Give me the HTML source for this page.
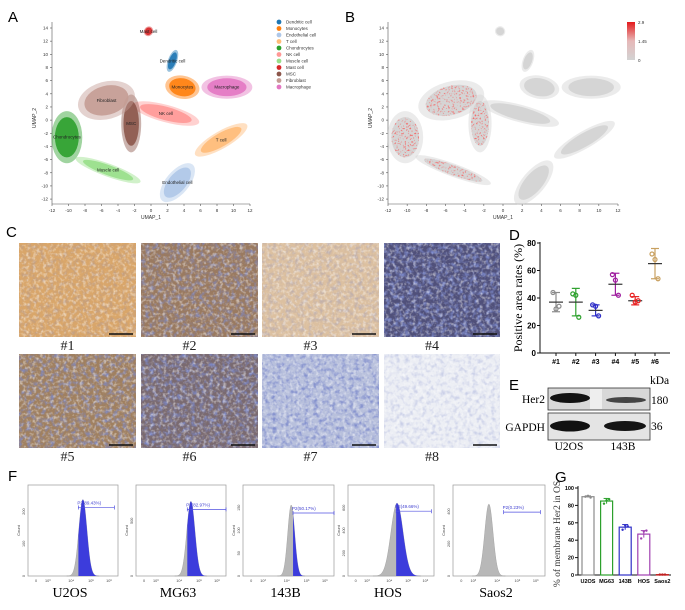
<!DOCTYPE html>
<html><head><meta charset="utf-8"><style>
html,body{margin:0;padding:0;background:#fff;}
svg{display:block;font-family:"Liberation Sans",sans-serif;}
.ser{font-family:"Liberation Serif",serif;}
</style></head><body>
<svg id="fig" width="685" height="610" viewBox="0 0 685 610" xmlns="http://www.w3.org/2000/svg">
<defs>
<filter id="nb" x="0" y="0" width="100%" height="100%"><feTurbulence type="fractalNoise" baseFrequency="0.22" numOctaves="2" seed="3"/><feColorMatrix type="matrix" values="0 0 0 0 0.2  0 0 0 0 0.25  0 0 0 0 0.6  0 0 -2.6 0 1.45"/></filter>
<filter id="nw" x="0" y="0" width="100%" height="100%"><feTurbulence type="fractalNoise" baseFrequency="0.3" numOctaves="2" seed="8"/><feColorMatrix type="matrix" values="0 0 0 0 1  0 0 0 0 1  0 0 0 0 1  0 -2.8 0 0 1.5"/></filter>
<filter id="nr" x="0" y="0" width="100%" height="100%"><feTurbulence type="fractalNoise" baseFrequency="0.6" numOctaves="1" seed="11"/><feColorMatrix type="matrix" values="0 0 0 0 0.9  0 0 0 0 0.15  0 0 0 0 0.15  0 -5 0 0 2.3"/><feComposite operator="in" in2="SourceAlpha"/></filter>
<filter id="nd" x="-20%" y="-20%" width="140%" height="140%"><feTurbulence type="fractalNoise" baseFrequency="0.5" numOctaves="1" seed="5"/><feColorMatrix type="matrix" values="0 0 0 0 0.5  0 0 0 0 0.5  0 0 0 0 0.5  0 0 -3 0 1.7"/><feComposite operator="in" in2="SourceAlpha"/><feComposite operator="in" in2="SourceGraphic" result="m"/><feFlood flood-color="#fff" flood-opacity="0"/><feMerge><feMergeNode in="m"/></feMerge></filter>
<linearGradient id="cb" x1="0" y1="0" x2="0" y2="1"><stop offset="0" stop-color="#e41a1c"/><stop offset="0.5" stop-color="#e6b8b8"/><stop offset="1" stop-color="#d3d3d3"/></linearGradient>
</defs>
<g id="panelA"></g>
<g id="panelB"></g>
<g id="panelC"></g>
<g id="panelD"></g>
<g id="panelE"></g>
<g id="panelF"></g>
<g id="panelG"></g>
</svg>
<script>
// ---------- data ----------
const clusterNames=["Dendritic cell","Monocytes","Endothelial cell","T cell","Chondrocytes","NK cell","Muscle cell","Mast cell","MSC","Fibroblast","Macrophage"];
const clusterColors=["#1f77b4","#ff7f0e","#aec7e8","#ffbb78","#2ca02c","#ff9896","#98df8a","#d62728","#8c564b","#c49c94","#e377c2"];
const clusterCx=[2.6,3.8,3.2,8.5,-10.2,1.8,-5.2,-0.3,-2.4,-5.4,9.2];
const clusterCy=[9,5,-9.5,-3,-2.6,1,-7.6,13.5,-0.5,3,5];
const clusterRx=[0.5,1.9,2.6,3.3,1.7,3.8,3.8,0.5,1.1,3.2,2.8];
const clusterRy=[1.6,1.6,1.6,1.2,3.6,1.2,0.9,0.7,4.0,2.6,1.6];
const clusterRot=[20,10,-50,-30,0,15,20,30,0,-15,0];
const umapTicks=[-12,-10,-8,-6,-4,-2,0,2,4,6,8,10,12,14];
const dCats=["#1","#2","#3","#4","#5","#6"];
const dPts=[[44,32,34],[43,42,26],[35,34,27],[57,53,42],[42,37,38],[72,68,54]];
const dMean=[37,37,31,50,38,65];
const dSD=[7,10,4,8,3,11];
const dColors=["#8c8c8c","#2ca02c","#3030c8","#a020a0","#e82020","#c8a060"];
const dTicks=[0,20,40,60,80];
const gCats=["U2OS","MG63","143B","HOS","Saos2"];
const gVals=[90,85,55,47,0.4];
const gSD=[1,3,3,4,0.3];
const gPts=[[90,91,89],[82,86,87],[52,57,56],[42,50,51],[0.5,0.5,0.5]];
const gColors=["#8c8c8c","#2ca02c","#3030c8","#a040b0","#c02020"];
const gTicks=[0,20,40,60,80,100];
const fSamples=["U2OS","MG63","143B","HOS","Saos2"];
const fGate=["P2(89.43%)","P2(82.97%)","P2(50.17%)","P2(49.66%)","P2(0.23%)"];
const fPeak=[0.61,0.61,0.53,0.57,0.39];
const fSpread=[0.045,0.045,0.038,0.07,0.045];
const fGateStart=[0.56,0.57,0.55,0.56,0.55];
const fGateEnd=[0.96,1.0,1.0,0.97,0.95];
const fHeight=[0.84,0.82,0.78,0.8,0.79];
const fYTicks=[["0","100","200"],["0","500"],["0","50","100","150"],["0","200","400","600"],["0","200","400"]];

const NS="http://www.w3.org/2000/svg";
function mk(parent,tag,attrs,text){const e=document.createElementNS(NS,tag);for(const k in attrs)e.setAttribute(k,attrs[k]);if(text!==undefined)e.textContent=text;parent.appendChild(e);return e;}
function label(g,x,y,t){const e=mk(g,"text",{x:x,y:y,"font-size":15},t);}

// ---------- UMAP panels ----------
function umap(g,x0,x1,expr){
  const X=v=>x0+(v+12)*(x1-x0)/24, Y=v=>28+(14-v)*6.58;
  const ax=mk(g,"g",{stroke:"#555","stroke-width":0.6});
  
  mk(ax,"line",{x1:x0,y1:22,x2:x0,y2:204});mk(ax,"line",{x1:x0,y1:204,x2:x1,y2:204});
  umapTicks.forEach(t=>{ if(t<=12){mk(ax,"line",{x1:X(t),y1:204,x2:X(t),y2:206});const tx=mk(g,"text",{x:X(t),y:212,"font-size":4.5,"text-anchor":"middle",fill:"#333"},t);}
    mk(ax,"line",{x1:x0-2,y1:Y(t),x2:x0,y2:Y(t)});const ty=mk(g,"text",{x:x0-4,y:Y(t)+1.5,"font-size":4.5,"text-anchor":"end",fill:"#333"},t);});
  const xt=mk(g,"text",{x:(x0+x1)/2,y:219,"font-size":5,"text-anchor":"middle",fill:"#333"},"UMAP_1");
  const yt=mk(g,"text",{x:x0-16,y:118,"font-size":5,"text-anchor":"middle",fill:"#333",transform:`rotate(-90 ${x0-16} 118)`},"UMAP_2");
  clusterNames.forEach((n,i)=>{
    const cx=X(clusterCx[i]),cy=Y(clusterCy[i]),rx=clusterRx[i]*(x1-x0)/24,ry=clusterRy[i]*6.58;
    const col=expr?"#d3d3d3":clusterColors[i];
    const e=mk(g,"ellipse",{cx:cx,cy:cy,rx:rx*1.1,ry:ry*1.1,transform:`rotate(${clusterRot[i]} ${cx} ${cy})`,fill:col,opacity:0.45});
    
    const e2=mk(g,"ellipse",{cx:cx,cy:cy,rx:rx*0.85,ry:ry*0.85,transform:`rotate(${clusterRot[i]} ${cx} ${cy})`,fill:col,opacity:0.9});
    
    if(expr && [4,8,9,6].includes(i)){const r=mk(g,"ellipse",{cx:cx,cy:cy,rx:rx*0.85,ry:ry*0.85,transform:`rotate(${clusterRot[i]} ${cx} ${cy})`,fill:"#fff",filter:"url(#nr)"});}
    if(!expr){const t=mk(g,"text",{x:cx,y:cy+1.5,"font-size":4.5,"text-anchor":"middle",fill:"#222"},n);}
  });
}
const A=document.getElementById("panelA");label(A,8,22,"A");umap(A,52,250,false);
clusterNames.forEach((n,i)=>{const y=22+i*6.5;
  const c=mk(A,"circle",{cx:279,cy:y,r:2.4,fill:clusterColors[i]});
  const t=mk(A,"text",{x:286,y:y+1.6,"font-size":4.5,fill:"#333"},n);});
const B=document.getElementById("panelB");label(B,345,22,"B");umap(B,388,618,true);
{const r=mk(B,"rect",{x:627,y:22,width:8,height:38,fill:"url(#cb)"});
[["2.9",24],["1.45",43],["0",62]].forEach(([t,y])=>{const e=mk(B,"text",{x:638,y:y,"font-size":4.5,fill:"#333"},t);});}

// ---------- C tiles ----------
const C=document.getElementById("panelC");label(C,6,237,"C");
const tileX=[19,141,262,384],tileY=[243,354];
const tileBase=["#d9a66a","#9a7a60","#dcc0a0","#50507a","#a08060","#7a6a70","#b8c0dc","#eceef4"];
const tileBlue=[0.25,0.7,0.3,1,0.8,0.9,0.9,0.3];
for(let i=0;i<8;i++){const x=tileX[i%4],y=tileY[Math.floor(i/4)],w=(i%4==3)?116:117;
  const g=mk(C,"g",{});
  mk(g,"rect",{x:x,y:y,width:w,height:94,fill:tileBase[i]});
  mk(g,"rect",{x:x,y:y,width:w,height:94,filter:"url(#nb)",opacity:tileBlue[i]});
  mk(g,"rect",{x:x,y:y,width:w,height:94,filter:"url(#nw)",opacity:0.5});
  mk(g,"line",{x1:x+w-27,y1:y+91,x2:x+w-3,y2:y+91,stroke:"#111","stroke-width":1.6});
  const t=mk(C,"text",{x:x+w/2-10,y:y+107,"font-size":14,"text-anchor":"middle",class:"ser",fill:"#222"},"#"+(i+1));}

// ---------- D ----------
const D=document.getElementById("panelD");label(D,509,240,"D");
{const x0=540,Y=v=>353-v*1.375,X=i=>556+i*19.8;
mk(D,"line",{x1:x0,y1:242,x2:x0,y2:353,stroke:"#111","stroke-width":1});
mk(D,"line",{x1:x0,y1:353,x2:670,y2:353,stroke:"#111","stroke-width":1});
dTicks.forEach(t=>{mk(D,"line",{x1:x0-3,y1:Y(t),x2:x0,y2:Y(t),stroke:"#111"});const e=mk(D,"text",{x:x0-4,y:Y(t)+3,"font-size":8,"font-weight":"bold","text-anchor":"end"},t);});
const yt=mk(D,"text",{x:522,y:298,"font-size":12,class:"ser","text-anchor":"middle",transform:"rotate(-90 522 298)"},"Positive area rates (%)");
dCats.forEach((c,i)=>{const x=X(i),col=dColors[i];
  mk(D,"line",{x1:x,y1:353,x2:x,y2:356,stroke:"#111"});
  const t=mk(D,"text",{x:x,y:364,"font-size":7,"font-weight":"bold","text-anchor":"middle"},c);
  const g=mk(D,"g",{stroke:col,"stroke-width":1.2,fill:"none"});
  mk(g,"line",{x1:x,y1:Y(dMean[i]-dSD[i]),x2:x,y2:Y(dMean[i]+dSD[i])});
  mk(g,"line",{x1:x-4,y1:Y(dMean[i]-dSD[i]),x2:x+4,y2:Y(dMean[i]-dSD[i])});
  mk(g,"line",{x1:x-4,y1:Y(dMean[i]+dSD[i]),x2:x+4,y2:Y(dMean[i]+dSD[i])});
  const m=mk(g,"line",{x1:x-7,y1:Y(dMean[i]),x2:x+7,y2:Y(dMean[i]),stroke:"#333"});
  dPts[i].forEach((v,j)=>{const p=mk(g,"circle",{cx:x+(j-1)*3,cy:Y(v),r:2});});
});}

// ---------- E ----------
const E=document.getElementById("panelE");label(E,509,390,"E");
{const g=mk(E,"g",{});
mk(g,"rect",{x:548,y:388,width:102,height:22,fill:"#d8d8d8",stroke:"#333","stroke-width":0.8});
mk(g,"rect",{x:590,y:389,width:12,height:20,fill:"#eeeeee"});
mk(g,"rect",{x:548,y:413,width:102,height:27,fill:"#e4e4e4",stroke:"#333","stroke-width":0.8});
mk(g,"ellipse",{cx:570,cy:398,rx:20,ry:5,fill:"#111"});
mk(g,"ellipse",{cx:626,cy:400,rx:20,ry:3,fill:"#444"});
mk(g,"ellipse",{cx:570,cy:426,rx:20,ry:5.5,fill:"#111"});
mk(g,"ellipse",{cx:625,cy:426,rx:21,ry:5,fill:"#151515"});
[["Her2",545,403,"end"],["GAPDH",545,431,"end"],["kDa",650,384,"start"],["180",651,404,"start"],["36",651,430,"start"],["U2OS",569,450,"middle"],["143B",623,450,"middle"]].forEach(([t,x,y,a])=>{const e=mk(E,"text",{x:x,y:y,"font-size":11.5,class:"ser","text-anchor":a},t);});}

// ---------- F ----------
const F=document.getElementById("panelF");label(F,8,481,"F");
const fX=[28,136,243,348,453],fW=[90,90,91,86,92],fTop=485,fBot=576;
fSamples.forEach((s,i)=>{const x0=fX[i],w=fW[i],h=fBot-fTop;
  const g=mk(F,"g",{});
  mk(g,"rect",{x:x0,y:fTop,width:w,height:h,fill:"#fff",stroke:"#999","stroke-width":0.7});
  const fx=f=>x0+f*w, fy=v=>fBot-v*fHeight[i]*h;
  let pg="",pb="";const n=80;
  for(let k=0;k<=n;k++){const f=fPeak[i]-4*fSpread[i]+k*8*fSpread[i]/n;const v=Math.exp(-0.5*((f-fPeak[i])/fSpread[i])**2);
    pg+=(k?"L":"M")+fx(f).toFixed(2)+","+fy(v).toFixed(2);}
  pg+="Z";
  mk(g,"path",{d:pg,fill:"#b8b8b8",stroke:"#999","stroke-width":0.4});
  if(i<4){for(let k=0;k<=n;k++){const f=fGateStart[i]+k*(fPeak[i]+4*fSpread[i]-fGateStart[i])/n;const v=Math.exp(-0.5*((f-fPeak[i])/fSpread[i])**2);
    pb+=(k?"L":"M")+fx(f).toFixed(2)+","+fy(v).toFixed(2);}
    pb+="L"+fx(fPeak[i]+4*fSpread[i])+","+fBot+"L"+fx(fGateStart[i])+","+fBot+"Z";
    const b=mk(g,"path",{d:pb,fill:"#3c3cdc"});}
  const gy=fy(1)+8;
  mk(g,"line",{x1:fx(fGateStart[i]),y1:gy,x2:fx(fGateEnd[i]),y2:gy,stroke:"#5050e0","stroke-width":0.7});
  mk(g,"line",{x1:fx(fGateStart[i]),y1:gy-2,x2:fx(fGateStart[i]),y2:gy+2,stroke:"#5050e0","stroke-width":0.7});
  mk(g,"line",{x1:fx(fGateEnd[i]),y1:gy-2,x2:fx(fGateEnd[i]),y2:gy+2,stroke:"#5050e0","stroke-width":0.7});
  const gl=mk(F,"text",{x:fx(fGateStart[i])-1,y:gy-3,"font-size":4.5,fill:"#4040d0"},fGate[i]);
  ["0","10³","10⁴","10⁵","10⁶"].forEach((t,k)=>{const tx=mk(F,"text",{x:fx([0.09,0.22,0.48,0.7,0.9][k]),y:fBot+6,"font-size":3.8,"text-anchor":"middle",fill:"#444"},t);});
  fYTicks[i].forEach((t,k)=>{const yy=fBot-k*(h*0.85)/(fYTicks[i].length-0.6);const e=mk(F,"text",{x:x0-3,y:yy,"font-size":3.8,"text-anchor":"middle",fill:"#444",transform:`rotate(-90 ${x0-3} ${yy})`},t);});
  const c=mk(F,"text",{x:x0-8,y:fTop+h/2,"font-size":4,"text-anchor":"middle",fill:"#444",transform:`rotate(-90 ${x0-8} ${fTop+h/2})`},"Count");
  const sl=mk(F,"text",{x:x0+w/2-3,y:597,"font-size":14,class:"ser","text-anchor":"middle"},s);
});

// ---------- G ----------
const G=document.getElementById("panelG");label(G,555,482,"G");
{const x0=578,Y=v=>575-v*0.87,X=i=>588+i*18.6;
mk(G,"line",{x1:x0,y1:486,x2:x0,y2:575,stroke:"#111","stroke-width":1});
mk(G,"line",{x1:x0,y1:575,x2:671,y2:575,stroke:"#111","stroke-width":1});
gTicks.forEach(t=>{mk(G,"line",{x1:x0-3,y1:Y(t),x2:x0,y2:Y(t),stroke:"#111"});const e=mk(G,"text",{x:x0-4,y:Y(t)+2,"font-size":5.5,"font-weight":"bold","text-anchor":"end"},t);});
const yt=mk(G,"text",{x:560,y:534,"font-size":9.5,class:"ser","text-anchor":"middle",fill:"#333",transform:"rotate(-90 560 534)"},"% of membrane Her2 in OS");
gCats.forEach((c,i)=>{const x=X(i),col=gColors[i];
  const t=mk(G,"text",{x:x,y:583,"font-size":5.5,"font-weight":"bold","text-anchor":"middle"},c);
  const b=mk(G,"rect",{x:x-6,y:Y(gVals[i]),width:12,height:575-Y(gVals[i]),fill:"#fff",stroke:col,"stroke-width":1.2});
  mk(G,"line",{x1:x,y1:Y(gVals[i]-gSD[i]),x2:x,y2:Y(gVals[i]+gSD[i]),stroke:col});
  mk(G,"line",{x1:x-3,y1:Y(gVals[i]+gSD[i]),x2:x+3,y2:Y(gVals[i]+gSD[i]),stroke:col});
  gPts[i].forEach((v,j)=>{const p=mk(G,"circle",{cx:x+(j-1)*2.6,cy:Y(v),r:1.2,fill:col});});
});}
</script>
</body></html>
